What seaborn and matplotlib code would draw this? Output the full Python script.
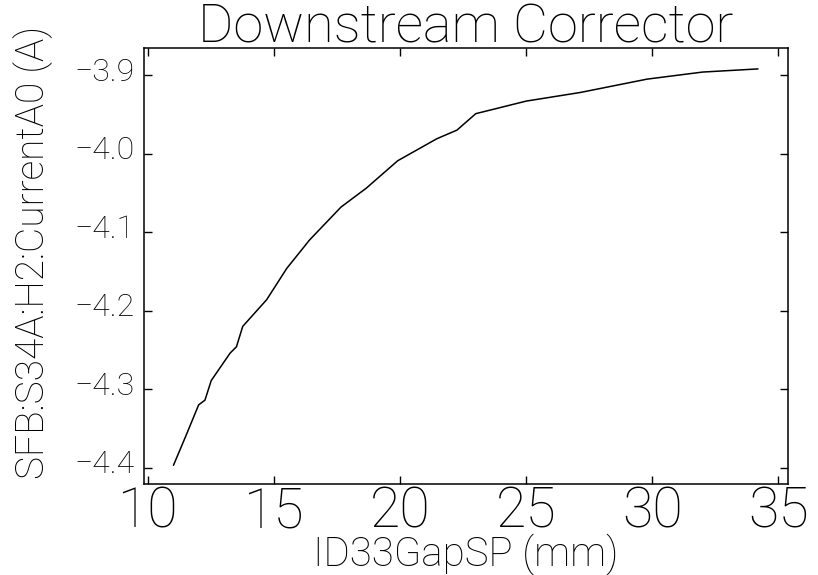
import pandas as pd
import seaborn as sns
import matplotlib.pyplot as plt
from matplotlib.transforms import ScaledTranslation

# data
gap_mm = [11.0, 11.5, 12.0, 12.25, 12.5, 13.25, 13.5, 13.75, 14.7, 15.5,
          16.4, 17.65, 18.65, 19.9, 21.45, 22.25, 23.0, 25.0, 27.15, 29.8,
          32.0, 34.2]
current_a = [-4.397, -4.359, -4.320, -4.314, -4.289, -4.254, -4.246, -4.220,
             -4.186, -4.146, -4.110, -4.068, -4.044, -4.009, -3.981, -3.970,
             -3.949, -3.933, -3.922, -3.905, -3.896, -3.892]

x_ticks = [10, 15, 20, 25, 30, 35]
y_ticks = [-3.9, -4.0, -4.1, -4.2, -4.3, -4.4]

df = pd.DataFrame({'gap': gap_mm, 'current': current_a})

sns.set_theme(style='ticks')
plt.rcParams['font.family'] = ['Roboto', 'DejaVu Sans']
plt.rcParams['font.weight'] = 100
plt.rcParams['axes.titleweight'] = 100
plt.rcParams['axes.labelweight'] = 100
plt.rcParams['text.color'] = 'black'
plt.rcParams['axes.labelcolor'] = 'black'
plt.rcParams['xtick.color'] = 'black'
plt.rcParams['ytick.color'] = 'black'
plt.rcParams['axes.linewidth'] = 1.1
plt.rcParams['xtick.direction'] = 'in'
plt.rcParams['ytick.direction'] = 'in'

fig = plt.figure(figsize=(8.18, 5.75), dpi=100)
ax = fig.add_axes([0.176, 0.158, 0.787, 0.759])

sns.lineplot(data=df, x='gap', y='current', ax=ax, color='black',
             linewidth=1.1, sort=False, estimator=None)

ax.set_xlim(9.83, 35.38)
ax.set_ylim(-4.421, -3.865)
ax.set_xticks(x_ticks)
ax.set_xticklabels([str(t) for t in x_ticks])
ax.set_yticks(y_ticks)
ax.set_yticklabels([f'{t:.1f}'.replace('-', '\u2212') for t in y_ticks])

ax.tick_params(axis='x', which='major', top=True, bottom=True, length=6,
               width=1.0, labelsize=40, pad=1)
ax.tick_params(axis='y', which='major', left=True, right=True, length=6,
               width=1.0, labelsize=23, pad=7)
for lbl in ax.get_yticklabels():
    lbl.set_transform(lbl.get_transform() + ScaledTranslation(0, 6 / 100, fig.dpi_scale_trans))
for sp in ax.spines.values():
    sp.set_color('black')

ax.set_xlabel('ID33GapSP (mm)', fontsize=29)
ax.xaxis.label.set_va('baseline')
ax.xaxis.set_label_coords(0.5, -0.186)
ax.set_ylabel('SFB:S34A:H2:CurrentA0 (A)', fontsize=28)
ax.yaxis.label.set_va('center')
ax.yaxis.set_label_coords(-0.172, 0.532)
ax.set_title('Downstream Corrector', fontsize=39, pad=4)

fig.savefig('out.png', dpi=100)
